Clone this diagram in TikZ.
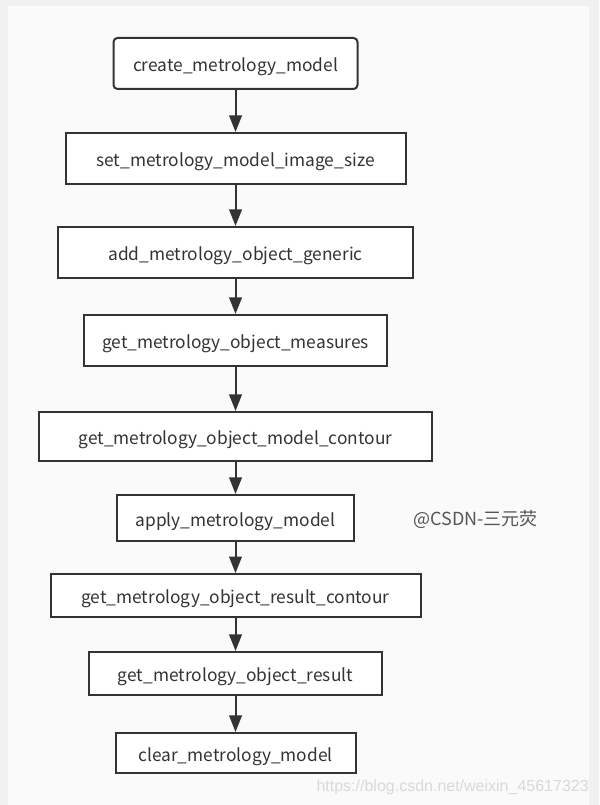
\documentclass[tikz,border=0pt]{standalone}
\usepackage{fontspec}
\setmainfont{Noto Sans CJK SC}
\newfontfamily\urlfont{Liberation Sans}
\usetikzlibrary{arrows.meta}
\definecolor{outerbg}{HTML}{F1F1F1}
\definecolor{panelbg}{HTML}{FAFAFA}
\definecolor{ink}{HTML}{333333}
\definecolor{wm}{HTML}{555555}
\definecolor{wmlight}{HTML}{D9D9D9}
\tikzset{
  fbox/.style={draw=ink, line width=1.5pt, fill=white, text=ink, font=\fontsize{13}{15}\selectfont, inner sep=0pt, text height=12.5pt, text depth=0.5pt},
  flow/.style={draw=ink, line width=1.5pt, -{Triangle[length=12.5pt,width=9.5pt]}},
}
\begin{document}
\begin{tikzpicture}[x=0.75pt,y=-0.75pt]
\useasboundingbox (0,0) rectangle (599,805);
\fill[outerbg] (0,0) rectangle (599,805);
\fill[panelbg] (8,6) rectangle (589,805);
\node[fbox, rounded corners=3pt, minimum width={244*0.75pt}, minimum height={51*0.75pt}] (n1) at (235.5,63.5) {create\_metrology\_model};
\node[fbox, minimum width={340*0.75pt}, minimum height={51*0.75pt}] (n2) at (235.5,158.5) {set\_metrology\_model\_image\_size};
\node[fbox, minimum width={355*0.75pt}, minimum height={51*0.75pt}] (n3) at (235.5,252.5) {add\_metrology\_object\_generic};
\node[fbox, minimum width={303*0.75pt}, minimum height={51*0.75pt}] (n4) at (235.5,340.5) {get\_metrology\_object\_measures};
\node[fbox, minimum width={393*0.75pt}, minimum height={49*0.75pt}] (n5) at (235.5,436.5) {get\_metrology\_object\_model\_contour};
\node[fbox, minimum width={237*0.75pt}, minimum height={46*0.75pt}] (n6) at (235.5,518) {apply\_metrology\_model};
\node[fbox, minimum width={370*0.75pt}, minimum height={43*0.75pt}] (n7) at (235.5,595.7) {get\_metrology\_object\_result\_contour};
\node[fbox, minimum width={293*0.75pt}, minimum height={43*0.75pt}] (n8) at (235.5,673.5) {get\_metrology\_object\_result};
\node[fbox, minimum width={240*0.75pt}, minimum height={40*0.75pt}] (n9) at (235.5,753) {clear\_metrology\_model};
\draw[flow] (n1) -- (n2);
\draw[flow] (n2) -- (n3);
\draw[flow] (n3) -- (n4);
\draw[flow] (n4) -- (n5);
\draw[flow] (n5) -- (n6);
\draw[flow] (n6) -- (n7);
\draw[flow] (n7) -- (n8);
\draw[flow] (n8) -- (n9);
\node[text=wm, font=\fontsize{13.5}{15}\selectfont, anchor=base west, inner sep=0pt] (wm1) at (413,525) {@CSDN-三元荧};
\node[text=wmlight, font=\urlfont\fontsize{12}{14}\selectfont, anchor=base east, inner sep=0pt] (wm2) at (589,791) {https://blog.csdn.net/weixin\_45617323};
\end{tikzpicture}
\end{document}
